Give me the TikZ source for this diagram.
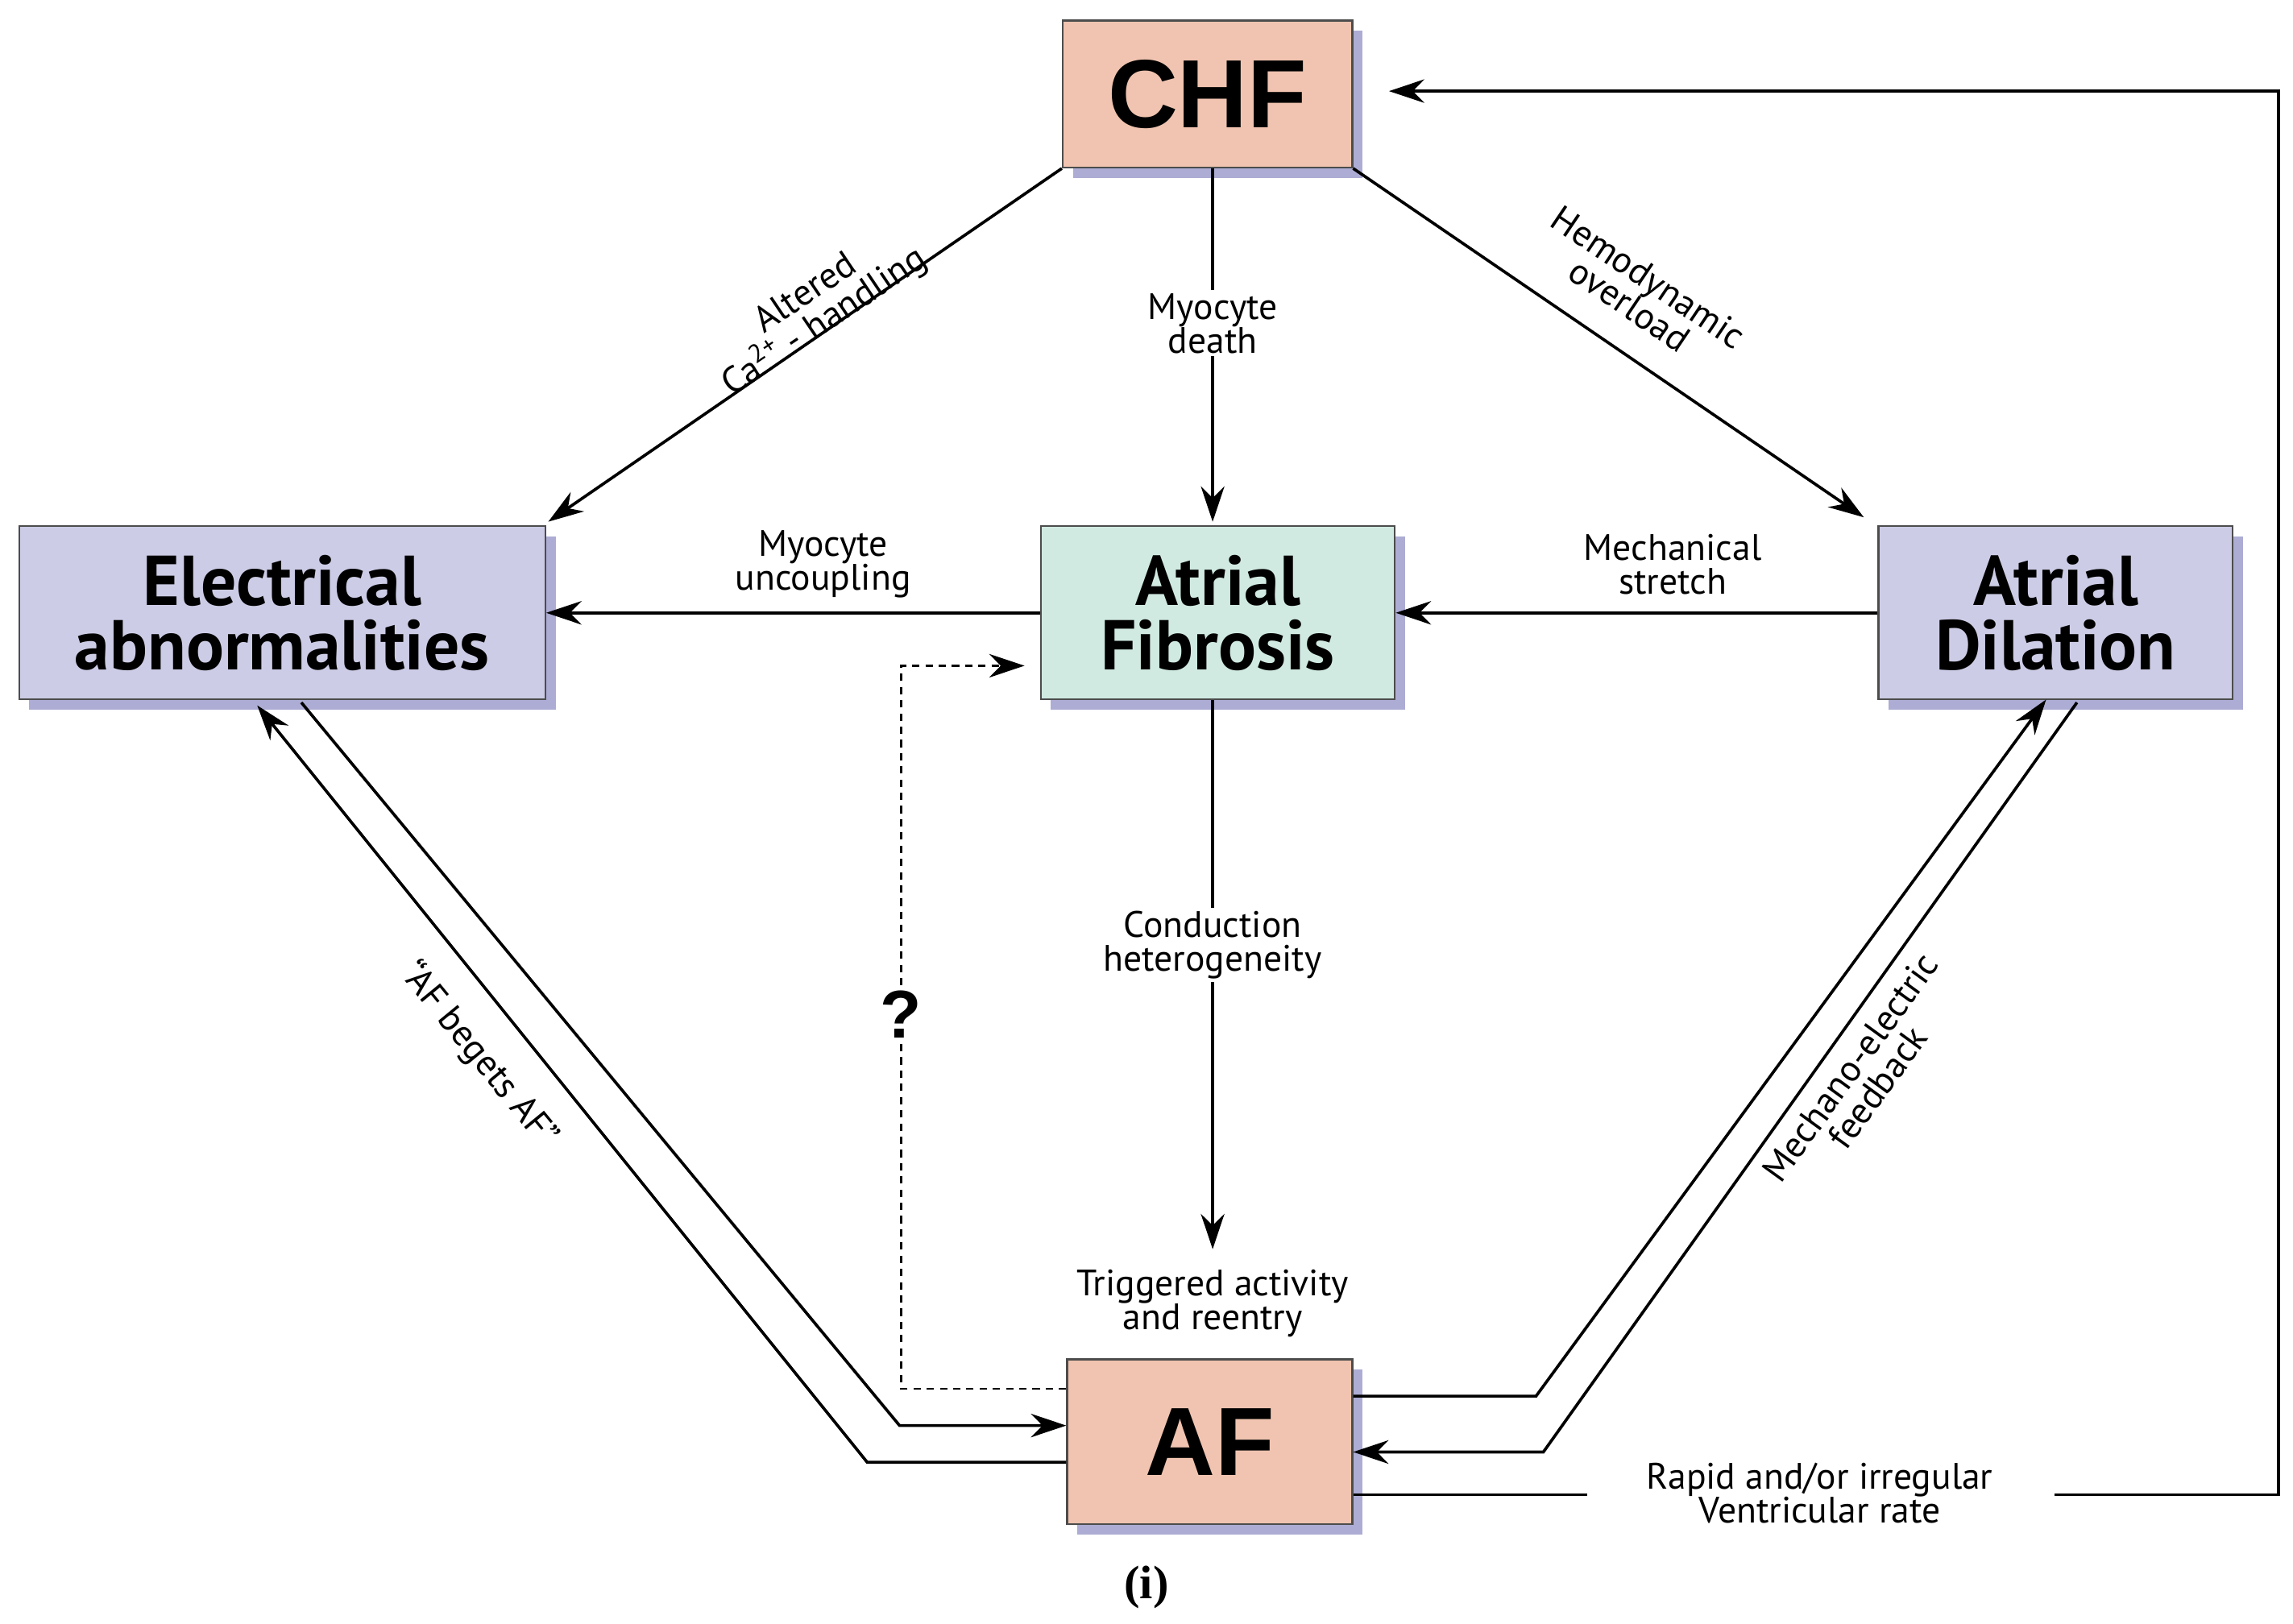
\documentclass[tikz,border=0pt]{standalone}
\usepackage{fontspec}
\setmainfont{PT Sans}
\newfontfamily\hel{Liberation Sans}
\newfontfamily\ser{Liberation Serif}
\usetikzlibrary{arrows.meta,shadows}
\definecolor{salmon}{RGB}{240,196,176}
\definecolor{lav}{RGB}{204,204,230}
\definecolor{teal}{RGB}{208,234,226}
\definecolor{shad}{RGB}{172,172,212}
\begin{document}
\begin{tikzpicture}[x=1pt,y=-1pt,
 box/.style={draw=black!70,line width=1.2pt,align=center,inner sep=0pt,
   drop shadow={shadow xshift=7pt,shadow yshift=-7pt,fill=shad,opacity=1}},
 big/.style={font=\fontsize{48}{50}\selectfont\bfseries},
 hv/.style={font=\hel\fontsize{66}{70}\selectfont\bfseries},
 lab/.style={font=\fontsize{25}{27}\selectfont,align=center,inner sep=2pt},
 arr/.style={line width=2pt,-{Stealth[length=24pt,width=16pt]}},
 ln/.style={line width=2pt}]
\useasboundingbox (0,0) rectangle (1560,1105);
\node[box,fill=salmon,hv,minimum width=197pt,minimum height=100pt] (chf) at (821.5,64) {CHF};
\node[box,fill=lav,big,minimum width=358pt,minimum height=118pt] (el) at (192,417) {Electrical\\[-6pt]abnormalities};
\node[box,fill=teal,big,minimum width=241pt,minimum height=118pt] (fib) at (828.5,417) {Atrial\\[-6pt]Fibrosis};
\node[box,fill=lav,big,minimum width=241pt,minimum height=118pt] (dil) at (1398.5,417) {Atrial\\[-6pt]Dilation};
\node[box,fill=salmon,hv,minimum width=194pt,minimum height=112pt] (af) at (823,981) {AF};

\draw[arr] (chf.south west) -- (373,355);
\node[lab,rotate=34] at (555,210) {Altered\\[-4pt]Ca\textsuperscript{2+} - handling};
\draw[arr] (chf.south -| 825,0) -- (825,355);
\node[lab,fill=white] at (825,220) {Myocyte\\[-4pt]death};
\draw[arr] (chf.south east) -- (1268,352);
\node[lab,rotate=-34] at (1115,198) {Hemodynamic\\[-4pt]overload};
\draw[arr] (fib.west) -- (el.east);
\node[lab] at (560,384) {Myocyte\\[-4pt]uncoupling};
\draw[arr] (dil.west) -- (fib.east);
\node[lab] at (1138,384) {Mechanical\\[-4pt]stretch};
\draw[arr] (fib.south -| 825,0) -- (825,850);
\node[lab,fill=white] at (825,643) {Conduction\\[-4pt]heterogeneity};
\node[lab] at (825,887) {Triggered activity\\[-4pt]and reentry};
\coordinate (d1) at (613,945);
\draw[line width=1.6pt,dash pattern=on 5pt off 4pt,-{Stealth[length=24pt,width=16pt]}] (af.west |- d1) -- (d1) -- (613,453) -- (697,453);
\node[font=\hel\fontsize{46}{48}\selectfont\bfseries,fill=white,inner sep=2pt] (q) at (613,690) {?};
\draw[arr] (205,478) -- (612,970) -- (af.west |- 0,970);
\draw[arr] (af.west |- 0,995) -- (590,995) -- (175,480);
\node[lab,rotate=-50.6] at (326,718) {“AF begets AF”};
\draw[arr] (af.east |- 0,950) -- (1045,950) -- (1392,476);
\draw[arr] (1413,478) -- (1050,988) -- (af.east |- 0,988);
\node[lab,rotate=54] at (1268,733) {Mechano-electric\\[-4pt]feedback};
\node[lab] (rv) at (1238,1016) {Rapid and/or irregular\\[-4pt]Ventricular rate};
\draw[ln] (af.east |- 0,1017) -- (1080,1017);
\draw[arr] (1398,1017) -- (1550,1017) -- (1550,62) -- (945,62);
\node[font=\ser\fontsize{32}{34}\selectfont\bfseries] (cap) at (780,1080) {(i)};
\end{tikzpicture}
\end{document}
